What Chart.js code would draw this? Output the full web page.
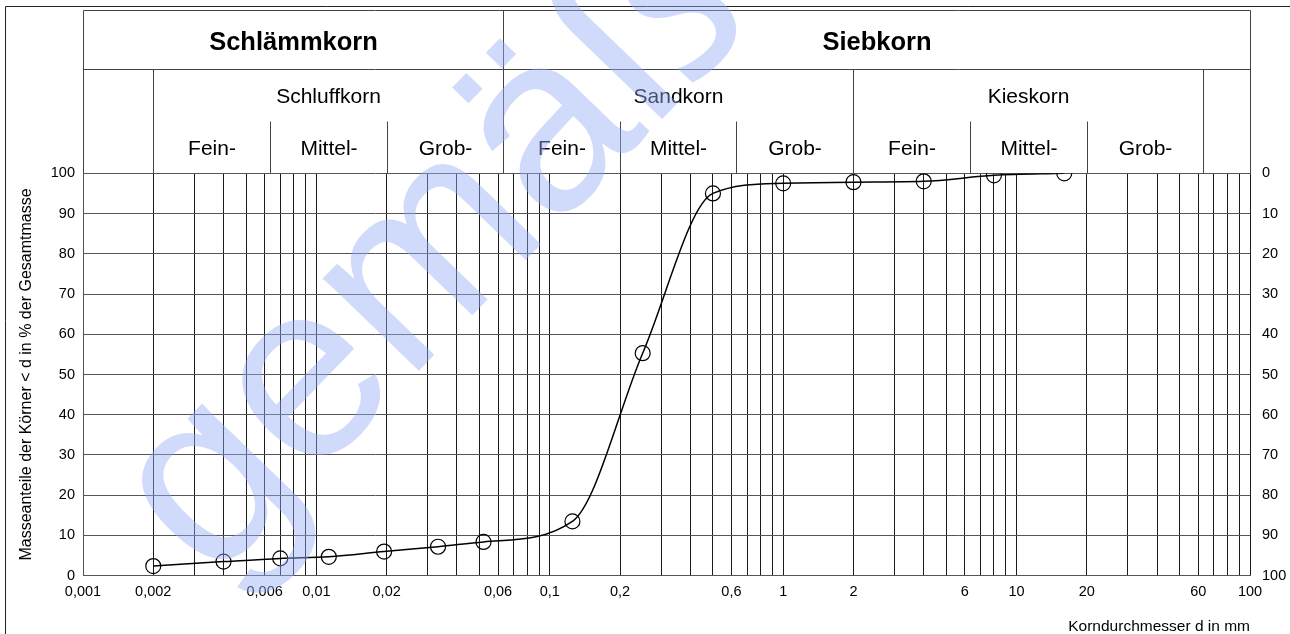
<!DOCTYPE html>
<html>
<head>
<meta charset="utf-8">
<script src="https://cdn.jsdelivr.net/npm/chart.js@4/dist/chart.umd.min.js"></script>
<style>
  html, body { margin: 0; padding: 0; background: #fff; }
  #wrap { width: 1290px; height: 634px; position: relative; }
  canvas { display: block; }
</style>
</head>
<body>
<div id="wrap"><canvas id="sieblinie" width="1290" height="634"></canvas></div>
<script>
// Körnungslinie: Korndurchmesser d [mm] und Massenanteil < d [%]
const korndurchmesser = [0.002, 0.004, 0.007, 0.0113, 0.0195, 0.0332, 0.052, 0.125, 0.25, 0.5, 1, 2, 4, 8, 16];
const siebdurchgang   = [2.4, 3.5, 4.3, 4.7, 6.0, 7.2, 8.4, 13.5, 55.3, 95.0, 97.5, 97.8, 98.0, 99.5, 100];

// Gitterlinien des logarithmischen Körnungsnetzes
const gitterWerte = [
  0.001, 0.002, 0.003, 0.004, 0.005, 0.006, 0.007, 0.008, 0.009,
  0.01, 0.02, 0.03, 0.04, 0.05, 0.06, 0.07, 0.08, 0.09,
  0.1, 0.2, 0.3, 0.4, 0.5, 0.6, 0.7, 0.8, 0.9,
  1, 2, 3, 4, 5, 6, 7, 8, 9,
  10, 20, 30, 40, 50, 60, 70, 80, 90,
  100
];
// beschriftete Korngrößen
const achsenBeschriftung = [0.001, 0.002, 0.006, 0.01, 0.02, 0.06, 0.1, 0.2, 0.6, 1, 2, 6, 10, 20, 60, 100];

// Kopfzeilen: Bodenarten nach Korngrößenbereichen
const hauptgruppen = ['Schlämmkorn', 'Siebkorn'];
const hauptgrenzen = [0.001, 0.063, 100];
const gruppen = ['Schluffkorn', 'Sandkorn', 'Kieskorn'];
const gruppengrenzen = [0.002, 0.063, 2, 63];
const untergruppen = ['Fein-', 'Mittel-', 'Grob-', 'Fein-', 'Mittel-', 'Grob-', 'Fein-', 'Mittel-', 'Grob-'];
const untergrenzen = [0.002, 0.0063, 0.02, 0.063, 0.2, 0.63, 2, 6.3, 20, 63];

const FONT = '"Liberation Sans", Arial, Helvetica, sans-serif';
const komma = v => String(v).replace('.', ',');

const kopfUndRahmen = {
  id: 'kopfUndRahmen',
  afterDraw(chart) {
    const { ctx, chartArea: a, scales: { x } } = chart;
    const px = v => Math.round(x.getPixelForValue(v)) + 0.5;
    const yKopf = 10.5, yZeile = 69.5, yUnter = 121.5, yNetz = Math.round(a.top) + 0.5;
    const line = (x1, y1, x2, y2) => { ctx.beginPath(); ctx.moveTo(x1, y1); ctx.lineTo(x2, y2); ctx.stroke(); };

    ctx.save();
    // äußerer Rahmen
    ctx.strokeStyle = '#222';
    ctx.lineWidth = 1;
    line(5.5, 6.5, 1290, 6.5);
    line(5.5, 6.5, 5.5, 634);

    // Kopfkasten
    ctx.strokeStyle = '#444';
    const xl = px(0.001), xr = px(100);
    line(xl, yKopf, xr, yKopf);
    line(xl, yZeile, xr, yZeile);
    line(xl, yKopf, xl, yNetz);
    line(xr, yKopf, xr, yNetz);
    line(px(0.063), yKopf, px(0.063), yNetz);
    gruppengrenzen.forEach(g => line(px(g), yZeile, px(g), yNetz));
    untergrenzen.forEach(g => line(px(g), yUnter, px(g), yNetz));

    ctx.fillStyle = '#000';
    ctx.textAlign = 'center';
    ctx.textBaseline = 'alphabetic';
    ctx.font = 'bold 25.5px ' + FONT;
    hauptgruppen.forEach((t, i) => {
      ctx.fillText(t, (px(hauptgrenzen[i]) + px(hauptgrenzen[i + 1])) / 2, 50);
    });
    ctx.font = '21px ' + FONT;
    gruppen.forEach((t, i) => {
      ctx.fillText(t, (px(gruppengrenzen[i]) + px(gruppengrenzen[i + 1])) / 2, 103);
    });
    untergruppen.forEach((t, i) => {
      ctx.fillText(t, (px(untergrenzen[i]) + px(untergrenzen[i + 1])) / 2, 155);
    });

    // Wasserzeichen
    ctx.translate(212, 585);
    ctx.rotate(-46 * Math.PI / 180);
    ctx.font = '252px ' + FONT;
    ctx.textAlign = 'left';
    ctx.fillStyle = 'rgba(150,172,246,0.45)';
    ctx.fillText('gemäß', 0, 0);
    ctx.restore();
  }
};

new Chart(document.getElementById('sieblinie'), {
  type: 'scatter',
  data: {
    datasets: [{
      data: korndurchmesser.map((d, i) => ({ x: d, y: siebdurchgang[i] })),
      showLine: true,
      borderColor: '#000',
      borderWidth: 1.5,
      cubicInterpolationMode: 'monotone',
      pointRadius: 7.5,
      pointBorderWidth: 1.2,
      pointBorderColor: '#000',
      pointBackgroundColor: 'rgba(0,0,0,0)',
      yAxisID: 'y'
    }]
  },
  options: {
    responsive: false,
    animation: false,
    events: [],
    layout: { padding: { top: 173.3, left: 0, right: 0, bottom: 0 } },
    plugins: { legend: { display: false }, tooltip: { enabled: false } },
    scales: {
      x: {
        type: 'logarithmic',
        min: 0.001,
        max: 100,
        afterBuildTicks: s => { s.ticks = gitterWerte.map(v => ({ value: v })); },
        afterFit: s => { s.height = 58.3; },
        ticks: {
          autoSkip: false,
          maxRotation: 0,
          padding: 7.5,
          color: '#000',
          font: { family: FONT, size: 14.5 },
          callback: v => achsenBeschriftung.includes(v) ? komma(v) : ''
        },
        grid: { color: '#1a1a1a', lineWidth: 1, drawTicks: false },
        border: { display: true, color: '#555' },
        title: {
          display: true,
          text: 'Korndurchmesser d in mm',
          align: 'end',
          color: '#000',
          padding: { top: 0, bottom: 0 },
          font: { family: FONT, size: 15.5, lineHeight: 1 }
        }
      },
      y: {
        position: 'left',
        min: 0,
        max: 100,
        afterFit: s => { s.width = 83; },
        ticks: { stepSize: 10, padding: 8, color: '#000', font: { family: FONT, size: 14.5 } },
        grid: { color: '#555', lineWidth: 1, drawTicks: false },
        border: { display: true, color: '#555' },
        title: {
          display: true,
          text: 'Masseanteile der Körner < d in % der Gesamtmasse',
          color: '#000',
          padding: { top: 19, bottom: 0 },
          font: { family: FONT, size: 16, lineHeight: 1 }
        }
      },
      y2: {
        position: 'right',
        min: 0,
        max: 100,
        reverse: true,
        afterFit: s => { s.width = 40; },
        ticks: { stepSize: 10, padding: 12, color: '#000', font: { family: FONT, size: 14.5 } },
        grid: { display: false, drawTicks: false },
        border: { display: false }
      }
    }
  },
  plugins: [kopfUndRahmen]
});
</script>
</body>
</html>
